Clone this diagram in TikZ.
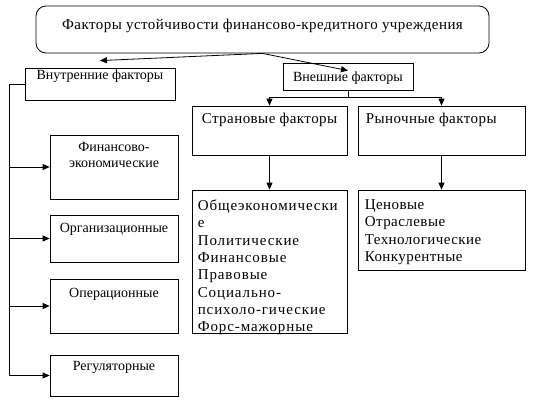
\documentclass[tikz,border=0pt]{standalone}
\usepackage{fontspec}
\setmainfont{Liberation Serif}
\newfontfamily\widefont[LetterSpace=3]{Liberation Serif}
\newfontfamily\widerfont[LetterSpace=6]{Liberation Serif}
\usetikzlibrary{arrows.meta,positioning,calc}

\tikzset{
  box/.style={draw, line width=0.8pt, inner sep=0pt},
  inlbl/.style={anchor=north, inner sep=0pt, font=\widefont\fontsize{15}{17}\selectfont},
  smlbl/.style={inlbl, font=\fontsize{14}{16}\selectfont},
  lstlbl/.style={anchor=north west, inner sep=0pt, align=left, font=\widefont\fontsize{15}{17.3}\selectfont},
  arr/.style={line width=0.8pt, -{Triangle[length=7pt,width=6pt]}},
  ln/.style={line width=0.8pt}
}

\begin{document}
\begin{tikzpicture}[x=1pt, y=-1pt]
    \useasboundingbox (0,0) rectangle (534,409);

    % Title
    \node[box, rounded corners=10pt, minimum width=453, minimum height=47,
      label={[inlbl, yshift=-13pt]north:Факторы устойчивости финансово-кредитного учреждения}]
      (top) at (262.5,29.5) {};

    % Internal and external groups
    \node[box, minimum width=150, minimum height=32,
      label={[smlbl, yshift=-2pt]north:Внутренние факторы}] (intern) at (100,84) {};
    \node[box, minimum width=130, minimum height=27,
      label={[smlbl, yshift=-9pt]north:Внешние факторы}] (extern) at (348,76.5) {};
    \draw[arr] (top.south) -- ([yshift=7pt]intern.north);
    \draw[arr] (top.south) -- ([yshift=-8pt]extern.north);

    % Internal factors
    \node[box, minimum width=128, minimum height=64,
      label={[smlbl, align=center, yshift=-8pt]north:{Финансово-\\экономические}}] (fin) at (114,167) {};
    \node[box, minimum width=128, minimum height=47,
      label={[smlbl, yshift=-8pt]north:Организационные}] (org) at (114,238.5) {};
    \node[box, minimum width=128, minimum height=54,
      label={[smlbl, yshift=-9pt]north:Операционные}] (oper) at (114,306) {};
    \node[box, minimum width=128, minimum height=41,
      label={[smlbl, yshift=-7pt]north:Регуляторные}] (reg) at (114,375.5) {};

    \draw[ln] (intern.west) -- ++(-15,0) coordinate (spine) -- (spine |- reg.west);
    \foreach \n in {fin,org,oper,reg} {
        \draw[arr] (spine |- \n.west) -- (\n.west);
    }

    % External factors
    \node[box, minimum width=155, minimum height=49,
      label={[inlbl, yshift=-7pt]north:Страновые факторы}] (country) at (269.5,130.5) {};
    \node[box, minimum width=167, minimum height=49,
      label={[inlbl, anchor=north west, xshift=8pt, yshift=-7pt]north west:Рыночные факторы}] (market) at (441.5,130.5) {};
    \draw[arr] (extern.south) -- ++(0,7) -| (country.north);
    \draw[arr] (extern.south) -- ++(0,7) -| (market.north);

    \node[box, minimum width=155, minimum height=143,
      label={[lstlbl, font=\widerfont\fontsize{15}{17.3}\selectfont, xshift=6pt, yshift=-10pt]north west:{Общеэкономически\\е\\Политические\\Финансовые\\Правовые\\Социально-\\психоло-гические\\Форс-мажорные}}] (clist) at (269.5,261.5) {};
    \node[box, minimum width=167, minimum height=80,
      label={[lstlbl, xshift=7pt, yshift=-10pt]north west:{Ценовые\\Отраслевые\\Технологические\\Конкурентные}}] (mlist) at (441.5,230) {};
    \draw[arr] (country.south) -- (clist.north);
    \draw[arr] (market.south) -- (mlist.north);
\end{tikzpicture}
\end{document}
